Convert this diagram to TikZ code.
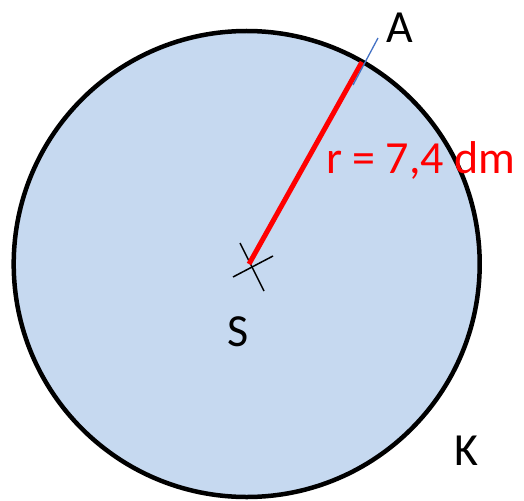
\documentclass[tikz,border=0pt]{standalone}
\usepackage{fontspec}
\setmainfont{Carlito}
\definecolor{fillblue}{RGB}{198,217,240}
\definecolor{tickblue}{RGB}{68,114,196}
\begin{document}
\begin{tikzpicture}[x=1pt,y=-1pt,
  lbl/.style={anchor=base west,inner sep=0pt,font=\fontsize{46}{46}\selectfont},
  thinln/.style={line width=1.5pt}]
\useasboundingbox (0,0) rectangle (524,500);
\node[circle,draw=black,fill=fillblue,line width=4.5pt,minimum size=466pt,inner sep=0pt] (K) at (246.7,264) {};
\coordinate (S) at (249,264);
\coordinate (A) at (362,62);
\coordinate (t1) at (353,85);
\coordinate (t2) at (378,38);
\coordinate (c1) at (240,243);
\coordinate (c2) at (264,291);
\coordinate (c3) at (233,277);
\coordinate (c4) at (273,256);
\draw[thinln] (c1) -- (c2);
\draw[thinln] (c3) -- (c4);
\draw[red,line width=5pt] (S) -- (A);
\draw[tickblue,line width=1.3pt] (t1) -- (t2);
\node[lbl] (lA) at (386,43) {A};
\node[lbl,text=red] (lr) at (326,173) {r = 7,4 dm};
\node[lbl] (lS) at (227,346) {S};
\node[lbl] (lK) at (454,465) {K};
\end{tikzpicture}
\end{document}
